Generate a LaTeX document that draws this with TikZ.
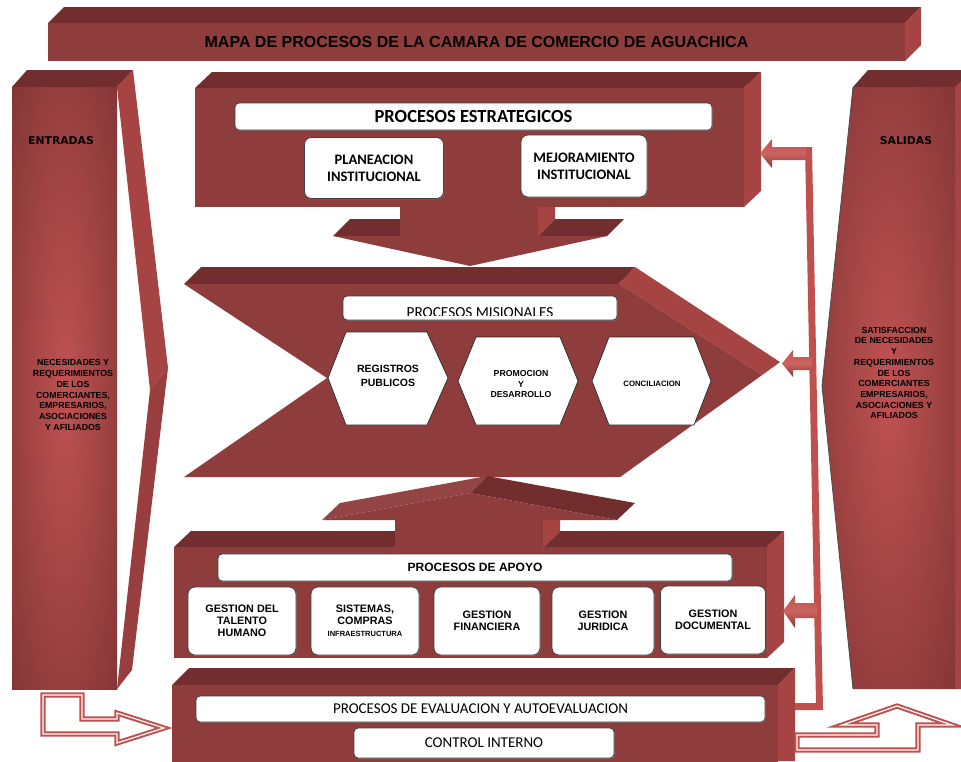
\documentclass[tikz,border=0pt]{standalone}
\usepackage{fontspec}
\setmainfont{Liberation Sans}
\newfontfamily\calfont{Carlito}
\newfontfamily\verfont{DejaVu Sans}
\usetikzlibrary{positioning,shadows}

\definecolor{frontred}{RGB}{143,60,60}
\definecolor{topred}{RGB}{114,46,46}
\definecolor{sidered}{RGB}{166,68,68}
\definecolor{glowred}{RGB}{192,82,82}
\definecolor{edgered}{RGB}{112,45,45}
\definecolor{linered}{RGB}{192,80,77}
\definecolor{lightline}{RGB}{205,100,96}
\definecolor{darkline}{RGB}{140,52,52}
\pgfdeclareradialshading{colglow}{\pgfpoint{0bp}{0bp}}{color(0bp)=(glowred); color(47bp)=(edgered); color(72bp)=(edgered)}

\begin{document}
\begin{tikzpicture}[x=1pt, y=-1pt,
  front/.style={fill=frontred}, topface/.style={fill=topred}, sideface/.style={fill=sidered},
  wbox/.style={draw=black!75, line width=0.8pt, fill=white, rounded corners=7pt, inner sep=0pt, align=center,
    drop shadow={shadow xshift=0.9pt, shadow yshift=-0.9pt, opacity=0.55}},
  hdr/.style={wbox, rounded corners=4pt},
  hexa/.style={draw=black!85, line width=0.7pt, fill=white},
  fbarrow/.style={top color=linered, bottom color=darkline, middle color=lightline},
  hollow/.style={draw=linered, double=white, line width=2pt, double distance=1.2pt, fill=white, line join=miter},
  colt/.style={font=\fontsize{8.8}{10.7}\selectfont\bfseries, align=center, inner sep=0pt},
  apt/.style={font=\fontsize{10.8}{12}\selectfont\bfseries},
  calb/.style={font=\calfont\fontsize{14.5}{17}\selectfont\bfseries}]
\useasboundingbox (0,0) rectangle (961,761);

% titulo
\fill[topface] (48,23) -- (64,7) -- (921,7) -- (905,23) -- cycle;
\fill[sideface] (905,23) -- (921,7) -- (921,45) -- (905,61) -- cycle;
\fill[front] (48,23) rectangle (905,61);
\node[font=\fontsize{16}{19}\selectfont\bfseries] (title) at (476.5,42) {MAPA DE PROCESOS DE LA CAMARA DE COMERCIO DE AGUACHICA};

% entradas
\fill[topface] (12,87) -- (27,70) -- (133,70) -- (117,87) -- cycle;
\fill[sideface] (117,87) -- (133,70) -- (168,368) -- (150,390) -- cycle;
\fill[sidered!92!black] (150,390) -- (168,368) -- (132,670) -- (117,689) -- cycle;
\shade[shading=colglow] (12,87) rectangle (117,689);
\node[font=\verfont\fontsize{10.8}{13}\selectfont\bfseries] (entr) at (61,141) {ENTRADAS};
\node[colt] (necesid) at (73,395) {NECESIDADES Y\\REQUERIMIENTOS\\DE LOS\\COMERCIANTES,\\EMPRESARIOS,\\ASOCIACIONES\\Y AFILIADOS};

% salidas
\fill[topface] (853,87) -- (868,70) -- (961,70) -- (961,87) -- cycle;
\fill[sideface] (955,87) -- (961,81) -- (961,689) -- (955,689) -- cycle;
\shade[shading=colglow] (853,87) -- (955,87) -- (955,689) -- (853,689) -- (822,386) -- cycle;
\draw[black!70, line width=0.8pt] (853,87) -- (822,386) -- (853,689);
\node[font=\verfont\fontsize{10.8}{13}\selectfont\bfseries] (sal) at (906,141) {SALIDAS};
\node[colt] (satisf) at (894,373) {SATISFACCION\\DE NECESIDADES\\Y\\REQUERIMIENTOS\\DE LOS\\COMERCIANTES\\EMPRESARIOS,\\ASOCIACIONES Y\\AFILIADOS};

% estrategicos
\fill[topface] (195,88) -- (212,72) -- (761,72) -- (744,88) -- cycle;
\fill[sideface] (744,88) -- (761,72) -- (761,191) -- (744,207) -- cycle;
\fill[front] (195,88) rectangle (744,207);
\node[hdr, minimum width=477pt, minimum height=27pt, font=\calfont\fontsize{18.5}{22}\selectfont\bfseries] (estr) at (473.5,116.5) {PROCESOS ESTRATEGICOS};
\node[wbox, calb, minimum width=139pt, minimum height=61pt] (plan) at (374,168) {PLANEACION\\INSTITUCIONAL};
\node[wbox, calb, minimum width=126pt, minimum height=62pt] (mejor) at (584,166) {MEJORAMIENTO\\INSTITUCIONAL};

% flecha hacia misionales
\fill[sideface] (538,207) -- (555,207) -- (555,219) -- (538,236) -- cycle;
\fill[topface] (333,236) -- (350,219) -- (400,219) -- (400,236) -- cycle;
\fill[topface] (538,236) -- (555,219) -- (624,219) -- (607,236) -- cycle;
\fill[front] (400,206) rectangle (538,237);

% misionales
\fill[topface] (184,284) -- (201,267) -- (635,267) -- (619,284) -- cycle;
\fill[sideface] (619,284) -- (635,267) -- (780,362) -- (762,375) -- cycle;
\fill[frontred!80!sidered] (762,375) -- (780,362) -- (620,477) -- cycle;
\fill[front] (184,284) -- (619,284) -- (762,375) -- (620,477) -- (184,477) -- (327,378) -- cycle;
\fill[front] (333,236) -- (607,236) -- (470,266) -- cycle;
\node[hdr, minimum width=274pt, minimum height=24pt] (misio) at (480,308) {};
\begin{scope}
  \clip (343,296) rectangle (617,315);
  \node[anchor=base, font=\calfont\fontsize{15.3}{18}\selectfont] (mistxt) at (480,317.5) {PROCESOS MISIONALES};
\end{scope}
\filldraw[hexa] (328,378) -- (346,332) -- (427,332) -- (448,378) -- (427,425) -- (346,425) -- cycle;
\filldraw[hexa] (458,381) -- (476,337) -- (560,337) -- (578,381) -- (560,425) -- (476,425) -- cycle;
\filldraw[hexa] (592,381) -- (609,337) -- (694,337) -- (711,381) -- (694,425) -- (609,425) -- cycle;
\node[align=center, font=\fontsize{10.5}{13.5}\selectfont\bfseries] (regis) at (388,376) {REGISTROS\\PUBLICOS};
\node[align=center, font=\fontsize{8.7}{10.8}\selectfont\bfseries] (promo) at (521,384) {PROMOCION\\Y\\DESARROLLO};
\node[font=\fontsize{7.8}{9}\selectfont\bfseries] (concil) at (652,384) {CONCILIACION};

% apoyo
\fill[topface] (174,547) -- (191,531) -- (784,531) -- (767,547) -- cycle;
\fill[sideface] (767,547) -- (784,531) -- (784,642) -- (767,658) -- cycle;
\fill[front] (174,547) rectangle (767,658);
\fill[sideface] (543,520) -- (560,520) -- (560,532) -- (543,548) -- cycle;
\fill[front] (395,519) rectangle (543,548);
\fill[frontred!96!white] (322,520) -- (340,503) -- (487,476) -- (470,493) -- cycle;
\fill[topface] (470,493) -- (487,476) -- (635,503) -- (617,520) -- cycle;
\fill[front] (322,520) -- (470,493) -- (617,520) -- cycle;
\node[hdr, minimum width=514pt, minimum height=27pt, font=\fontsize{12}{14}\selectfont\bfseries] (apoyo) at (475,567.5) {PROCESOS DE APOYO};
\node[wbox, apt, minimum width=108pt, minimum height=68pt] (talento) at (242,621) {GESTION DEL\\TALENTO\\HUMANO};
\node[wbox, apt, minimum width=108pt, minimum height=68pt] (sistemas) at (365,621) {SISTEMAS,\\COMPRAS\\{\fontsize{7.5}{9}\selectfont INFRAESTRUCTURA}};
\node[wbox, apt, minimum width=106pt, minimum height=68pt] (financ) at (487,621) {GESTION\\FINANCIERA};
\node[wbox, apt, minimum width=102pt, minimum height=68pt] (juridica) at (603,621) {GESTION\\JURIDICA};
\node[wbox, apt, minimum width=105pt, minimum height=68pt] (docum) at (713,620) {GESTION\\DOCUMENTAL};

% evaluacion
\fill[topface] (172,685) -- (189,668) -- (795,668) -- (778,685) -- cycle;
\fill[sideface] (778,685) -- (795,668) -- (795,761) -- (778,761) -- cycle;
\fill[front] (172,685) rectangle (778,762);
\node[hdr, minimum width=569pt, minimum height=26pt, font=\calfont\fontsize{15}{18}\selectfont] (evalu) at (480.5,709) {PROCESOS DE EVALUACION Y AUTOEVALUACION};
\node[hdr, minimum width=260pt, minimum height=30pt, font=\calfont\fontsize{15}{18}\selectfont] (control) at (484,743) {CONTROL INTERNO};

% retroalimentacion
\fill[linered] (805,147) -- (812,147) -- (823,710) -- (795,710) -- (795,703) -- (816,703) -- cycle;
\shade[fbarrow] (806,147) -- (772,147) -- (772,139) -- (760,153.5) -- (772,168) -- (772,160) -- (806,160) -- cycle;
\shade[fbarrow] (812,357) -- (793,357) -- (793,350) -- (782,363.5) -- (793,377) -- (793,370) -- (812,370) -- cycle;
\shade[fbarrow] (817,603) -- (795,603) -- (795,595) -- (783,611) -- (795,628) -- (795,618) -- (817,618) -- cycle;

% flechas huecas
\draw[hollow] (43,695) -- (82,695) -- (82,719) -- (117,719) -- (117,713) -- (164,728) -- (117,743) -- (117,734) -- (43,734) -- cycle;
\draw[hollow] (797,735) -- (877,735) -- (877,725) -- (842,725) -- (897,706) -- (952,725) -- (918,725) -- (918,750) -- (797,750) -- cycle;
\end{tikzpicture}
\end{document}
